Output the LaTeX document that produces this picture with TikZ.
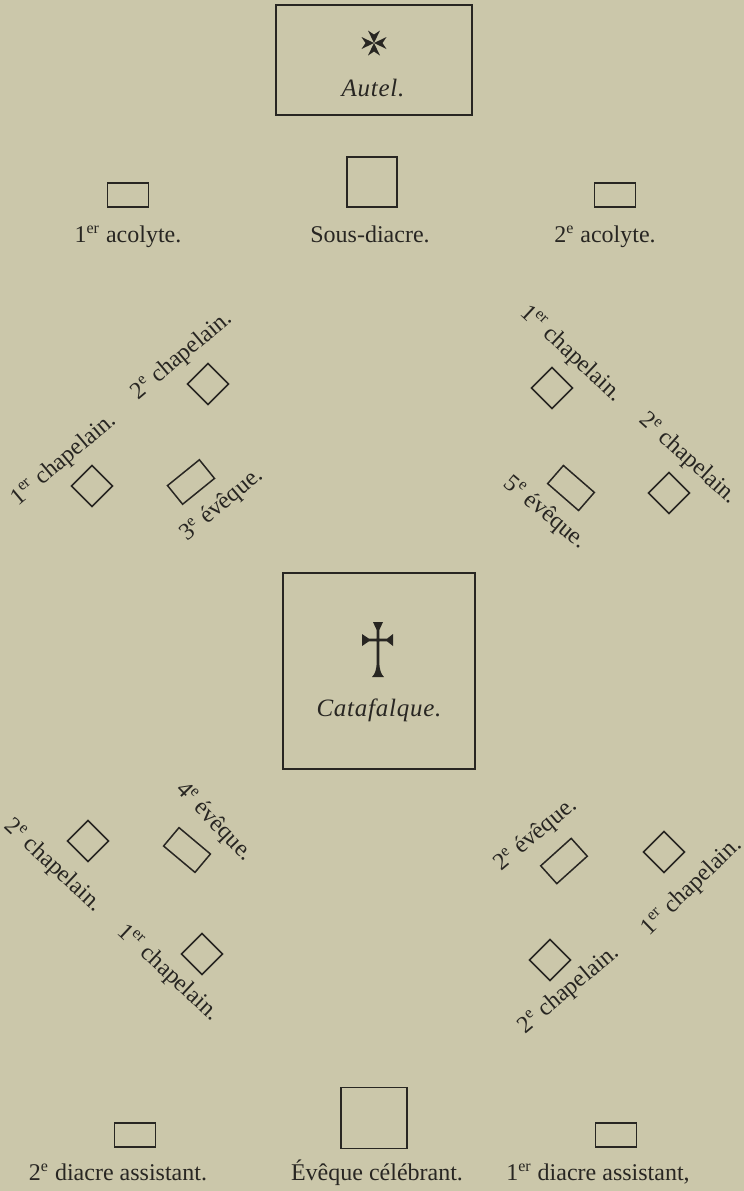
\documentclass[tikz,border=0pt]{standalone}
\usepackage{fontspec}
\setmainfont{Liberation Serif}
\usepackage{xcolor}
\usepackage{tikz}
\usetikzlibrary{positioning}
\definecolor{paper}{RGB}{203,199,170}
\definecolor{ink}{RGB}{40,38,34}

\begin{document}
\begin{tikzpicture}[
      x=0.5pt, y=-0.5pt,
      font=\fontsize{12}{14}\selectfont,
      seat/.style={draw=ink, line width=0.75pt, minimum width=20.5pt,
                   minimum height=12pt, inner sep=0pt},
      sq/.style={draw=ink, line width=0.75pt, minimum size=14.5pt,
                 inner sep=0pt, rotate=45},
      big/.style={draw=ink, line width=0.85pt, inner sep=0pt},
      lbl/.style={text=ink, inner sep=0pt},
      ttl/.style={text=ink, inner sep=0pt,
                  font=\fontsize{12.5}{14}\selectfont\itshape\addfontfeature{LetterSpace=3}},
    ]
    % ---- paper ----
    \fill[paper] (0,0) rectangle (744,1191);
    \useasboundingbox (0,0) rectangle (744,1191);

    % ---- altar ----
    \node[big, minimum width=98pt, minimum height=55pt] (autel) at (374,60) {};
    \begin{scope}[shift={(374,43)}]
      \foreach \ang in {0,90,180,270}
        \fill[ink, rotate=\ang] (0,0) -- (12.5,-6) -- (8.5,0) -- (12.5,6) -- cycle;
    \end{scope}
    \node[ttl] (autelt) at (373,88) {Autel.};

    % ---- first row ----
    \node[seat] (aco1) at (128,195) {};
    \node[lbl, anchor=base] at (128,242) {1\textsuperscript{er} acolyte.};
    \node[big, minimum size=25pt] (sdiac) at (372,182) {};
    \node[lbl, anchor=base] at (370,242) {Sous-diacre.};
    \node[seat] (aco2) at (615,195) {};
    \node[lbl, anchor=base] at (605,242) {2\textsuperscript{e} acolyte.};

    % ---- upper left group ----
    \node[sq] (ch1a) at (92,486) {};
    \node[lbl, rotate=40] at (64,460) {1\textsuperscript{er} chapelain.};
    \node[sq] (ch2a) at (208,384) {};
    \node[lbl, rotate=40] at (182,356) {2\textsuperscript{e} chapelain.};
    \node[seat, rotate=39] (ev3) at (191,482) {};
    \node[lbl, rotate=40] at (222,505) {3\textsuperscript{e} évêque.};

    % ---- upper right group ----
    \node[sq] (ch1b) at (552,388) {};
    \node[lbl, rotate=-43] at (571,354) {1\textsuperscript{er} chapelain.};
    \node[sq] (ch2b) at (669,493) {};
    \node[lbl, rotate=-42] at (688,459) {2\textsuperscript{e} chapelain.};
    \node[seat, rotate=-41] (ev5) at (571,488) {};
    \node[lbl, rotate=-40] at (545,513) {5\textsuperscript{e} évêque.};

    % ---- catafalque ----
    \node[big, minimum width=96pt, minimum height=98pt] (cata) at (379,671) {};
    \fill[ink] (373,622) -- (383,622) -- (379.3,630) -- (379.3,638.7) -- (387,638.7)
      -- (393,634) -- (393,646) -- (387,641.3) -- (379.3,641.3) -- (379.3,662)
      .. controls (379.5,670) and (381,674) .. (384,677) -- (372,677)
      .. controls (375,674) and (376.5,670) .. (376.7,662) -- (376.7,641.3)
      -- (369,641.3) -- (362,646) -- (362,634) -- (369,638.7) -- (376.7,638.7)
      -- (376.7,630) -- cycle;
    \node[ttl] (catat) at (379,710) {Catafalque.};

    % ---- lower left group ----
    \node[sq] (ch2c) at (88,841) {};
    \node[lbl, rotate=-43] at (53,866) {2\textsuperscript{e} chapelain.};
    \node[seat, rotate=-40] (ev4) at (187,850) {};
    \node[lbl, rotate=-46] at (214,822) {4\textsuperscript{e} évêque.};
    \node[sq] (ch1c) at (202,954) {};
    \node[lbl, rotate=-43] at (168,973) {1\textsuperscript{er} chapelain.};

    % ---- lower right group ----
    \node[seat, rotate=42] (ev2) at (564,861) {};
    \node[lbl, rotate=40] at (536,835) {2\textsuperscript{e} évêque.};
    \node[sq] (ch1d) at (664,852) {};
    \node[lbl, rotate=44] at (692,887) {1\textsuperscript{er} chapelain.};
    \node[sq] (ch2d) at (550,960) {};
    \node[lbl, rotate=40] at (569,990) {2\textsuperscript{e} chapelain.};

    % ---- last row ----
    \node[seat] (dia2) at (135,1135) {};
    \node[lbl, anchor=base] at (118,1180) {2\textsuperscript{e} diacre assistant.};
    \node[big, minimum width=33pt, minimum height=30.5pt] (celeb) at (374,1118) {};
    \node[lbl, anchor=base] at (377,1180) {Évêque célébrant.};
    \node[seat] (dia1) at (616,1135) {};
    \node[lbl, anchor=base] at (598,1180) {1\textsuperscript{er} diacre assistant,};
  \end{tikzpicture}
\end{document}
